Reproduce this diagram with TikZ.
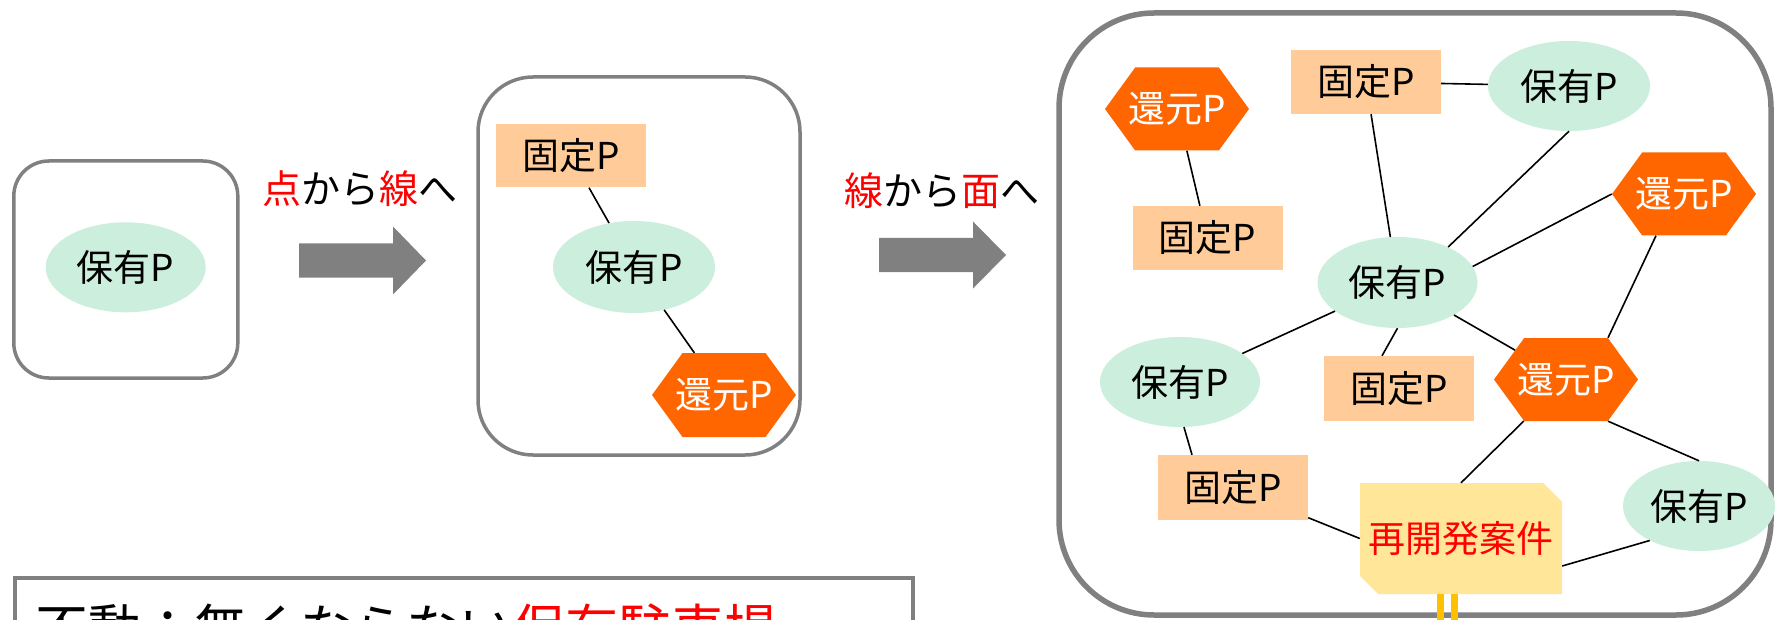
\documentclass[tikz,border=0pt]{standalone}
\usepackage{fontspec}
\setmainfont{Noto Sans CJK JP}
\usetikzlibrary{shapes.geometric,shapes.symbols,calc}
\definecolor{mint}{HTML}{CCEEDD}
\definecolor{peach}{HTML}{FFCC99}
\definecolor{hexor}{HTML}{FF6600}
\definecolor{notey}{HTML}{FFE699}
\definecolor{boxgray}{HTML}{808080}
\definecolor{goldl}{HTML}{FFC000}
\definecolor{redt}{HTML}{FF0000}
\begin{document}
\begin{tikzpicture}[x=1pt,y=-1pt,
  nodefont/.style={font=\fontsize{37}{44}\selectfont},
  hold/.style={ellipse, fill=mint, minimum width=160pt, minimum height=90pt, inner sep=0pt, nodefont},
  fixp/.style={rectangle, fill=peach, minimum width=150pt, minimum height=64pt, inner sep=0pt, nodefont},
  retp/.style={signal, signal to=east and west, signal pointer angle=108, fill=hexor, minimum width=144pt, minimum height=83pt, inner sep=0pt,
     label={[text=white, inner sep=0pt, nodefont]center:還元P}},
  link/.style={draw=black, line width=1.6pt},
  roundbox/.style={draw=boxgray, fill=white, rounded corners=#1},
  bigarrow/.style={fill=boxgray},
  captxt/.style={inner sep=0pt, font=\fontsize{39}{46}\selectfont},
]
\useasboundingbox (0,0) rectangle (1776,620);
\clip (0,0) rectangle (1776,620);

% containers
\node[roundbox=35pt, line width=3.5pt, minimum width=224pt, minimum height=217pt] (box1) at (125.8,269.5) {};
\node[roundbox=55pt, line width=3.5pt, minimum width=322pt, minimum height=378pt] (box2) at (639,266) {};
\node[roundbox=95pt, line width=5.5pt, minimum width=712pt, minimum height=602pt] (box3) at (1415,314) {};
\node[draw=boxgray, line width=4pt, minimum width=898pt, minimum height=102pt] (tbox) at (464,629) {};

% box 1
\node[hold] (e1) at (125.7,267.3) {保有P};

% arrow 1 + caption
\coordinate (a1s) at (299,260.5);
\fill[bigarrow] (a1s) ++(0,-17) -- ++(94,0) -- ++(0,-17) -- (426,260.5) -- (393,294.5) -- ++(0,-17) -- ++(-94,0) -- cycle;
\node[captxt] (t1) at (360,189) {\textcolor{redt}{点}から\textcolor{redt}{線}へ};

% box 2
\node[fixp, minimum height=63pt] (r2) at (571,156) {固定P};
\node[hold, minimum width=162pt, minimum height=92pt] (e2) at (634,267) {保有P};
\node[retp, minimum height=84pt] (h2) at (724,395) {};
\draw[link] (r2) -- (e2);
\draw[link] (e2) -- (h2);

% arrow 2 + caption
\coordinate (a2s) at (879,255);
\fill[bigarrow] (a2s) ++(0,-17) -- ++(94,0) -- ++(0,-16.5) -- (1006,255) -- (973,288.5) -- ++(0,-16.5) -- ++(-94,0) -- cycle;
\node[captxt] (t2) at (942,191) {\textcolor{redt}{線}から\textcolor{redt}{面}へ};

% box 3 nodes
\node[retp] (hTL) at (1177,109) {};
\node[fixp] (rT) at (1366,82) {固定P};
\node[hold, minimum width=162pt] (eTR) at (1569,86) {保有P};
\node[fixp] (rL) at (1207.5,238) {固定P};
\node[retp] (hR) at (1684,194) {};
\node[hold, minimum height=91pt] (eC) at (1397.5,282.5) {保有P};
\node[hold] (eL) at (1180,382) {保有P};
\node[fixp, minimum height=65pt] (rM) at (1399,388.5) {固定P};
\node[retp] (hM) at (1566,379.5) {};
\node[fixp, minimum height=65pt] (rBL) at (1233,487.5) {固定P};
% note with cut corners
\coordinate (nc) at (1461,538.5);
\fill[notey] ($(nc)+(-101,-55.5)$) -- ($(nc)+(82,-55.5)$) -- ($(nc)+(101,-36.5)$) -- ($(nc)+(101,55.5)$)
   -- ($(nc)+(-83,55.5)$) -- ($(nc)+(-101,37.5)$) -- cycle;
\node[rectangle, minimum width=202pt, minimum height=111pt, inner sep=0pt, text=redt, nodefont] (note) at (nc) {再開発案件};
\node[hold, minimum width=152pt] (eBR) at (1699,506) {保有P};

% links
\draw[link] (hTL) -- (rL);
\draw[link] (rT) -- (eC);
\draw[link] (rT) -- (eTR);
\draw[link] (eTR.south) -- (eC.35);
\draw[link] (hR.west) -- (eC.12);
\draw[link] ($(hR.south)+(-28,0)$) -- ($(hM.north)+(42,0)$);
\draw[link] (eC) -- (eL);
\draw[link] (eC.south) -- ($(rM.north)+(-17,0)$);
\draw[link] (eC) -- (hM);
\draw[link] (eL.-85) -- ($(rBL.north)+(-41,0)$);
\draw[link] (rBL) -- (note.west);
\draw[link] (hM) -- (note.north);
\draw[link] ($(note.east)+(0,27.5)$) -- (eBR.215);
\draw[link] ($(hM.south)+(42,0)$) -- (eBR.north);

% gold lines
\draw[goldl, line width=7pt] ($(note.south)+(-20.5,0)$) -- ++(0,40);
\draw[goldl, line width=7pt] ($(note.south)+(-6.5,0)$) -- ++(0,40);

% bottom text
\node[anchor=base west, inner sep=0pt, font=\fontsize{53}{60}\selectfont] (bt) at (35,648) {不動：無くならない\textcolor{redt}{保有駐車場}};
\end{tikzpicture}
\end{document}
